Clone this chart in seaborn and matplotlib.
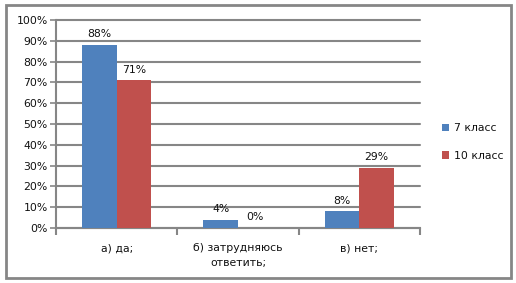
import matplotlib
matplotlib.use("Agg")
import matplotlib.pyplot as plt
import seaborn as sns
import pandas as pd
from matplotlib.patches import Rectangle

categories = ["а) да;", "б) затрудняюсь\nответить;", "в) нет;"]
series_names = ["7 класс", "10 класс"]
values_7 = [88, 4, 8]
values_10 = [71, 0, 29]
y_ticks = [0, 10, 20, 30, 40, 50, 60, 70, 80, 90, 100]

df = pd.DataFrame({
    "cat": categories * 2,
    "series": [series_names[0]] * 3 + [series_names[1]] * 3,
    "val": values_7 + values_10,
})

sns.set_style("white")
plt.rcParams['font.family'] = ['DejaVu Sans']
W, H = 516, 283
fig = plt.figure(figsize=(W / 100, H / 100), dpi=100)
ax = fig.add_axes([56 / W, 1 - 228 / H, (420 - 56) / W, (228 - 20) / H])

grid_c = "#868686"
txt_c = "#111111"
sns.barplot(data=df, x="cat", y="val", hue="series", order=categories,
            hue_order=series_names, palette=["#4F81BD", "#C0504D"],
            width=0.57, gap=0, saturation=1, linewidth=0, edgecolor="none",
            ax=ax, legend=True, zorder=3)

for cont in ax.containers:
    ax.bar_label(cont, labels=[f"{int(round(v))}%" for v in cont.datavalues],
                 padding=4, fontsize=7.8, color=txt_c)

ax.set_ylim(0, 100)
ax.set_xlim(-0.5, 2.5)
ax.set_yticks(y_ticks)
ax.set_yticklabels([f"{t}%" for t in y_ticks], fontsize=7.8, color=txt_c)
ax.yaxis.grid(True, color=grid_c, linewidth=1.5, zorder=0)
for gl in ax.yaxis.get_gridlines():
    gl.set_clip_on(False)
ax.set_axisbelow(True)
ax.tick_params(axis="y", length=4, width=1.2, color=grid_c, pad=2, left=True)
ax.set_xticks([0, 1, 2])
ax.set_xticklabels(categories, fontsize=7.8, linespacing=1.6, color=txt_c)
ax.set_xticks([-0.5, 0.5, 1.5, 2.5], minor=True)
ax.tick_params(axis="x", which="major", length=0, pad=11)
ax.tick_params(axis="x", which="minor", length=5, width=1.5, color=grid_c, bottom=True)
ax.set_xlabel("")
ax.set_ylabel("")
for s in ["top", "right"]:
    ax.spines[s].set_visible(False)
for s in ["left", "bottom"]:
    ax.spines[s].set_color(grid_c)
    ax.spines[s].set_linewidth(1.5)

leg = ax.legend(loc="center left", bbox_to_anchor=(432 / W, 1 - 142 / H),
                bbox_transform=fig.transFigure, frameon=False, fontsize=7.8,
                handlelength=0.7, handleheight=0.7, handletextpad=0.4,
                labelspacing=1.6)
for t in leg.get_texts():
    t.set_color(txt_c)

fig.patches.append(Rectangle((6 / W, 1 - 278 / H), (511 - 6) / W, (278 - 5) / H,
                             transform=fig.transFigure, fill=False,
                             edgecolor=grid_c, linewidth=2))

fig.savefig("out.png", dpi=100)
